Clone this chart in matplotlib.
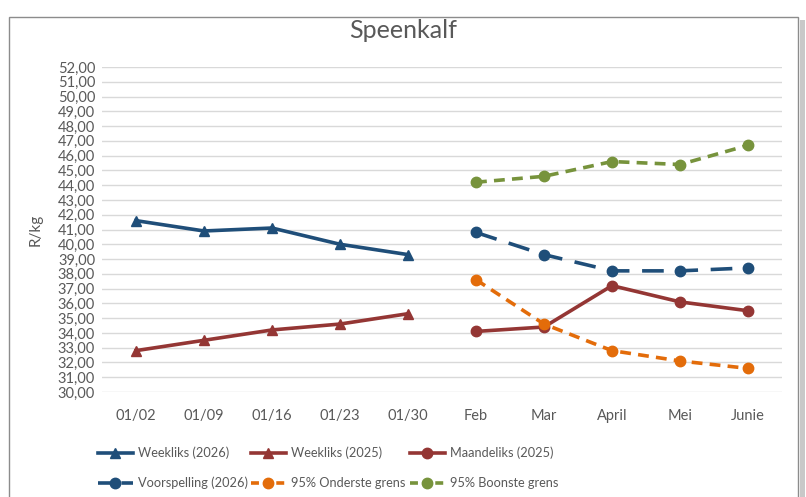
import numpy as np
import matplotlib
matplotlib.use("Agg")
from matplotlib import pyplot as plt
from matplotlib.lines import Line2D
from matplotlib.patches import Rectangle

# categories on the x axis
categories = ["01/02", "01/09", "01/16", "01/23", "01/30",
              "Feb", "Mar", "April", "Mei", "Junie"]

# weekly series (first five categories)
weekliks_2026 = [41.6, 40.9, 41.1, 40.0, 39.3]
weekliks_2025 = [32.8, 33.5, 34.2, 34.6, 35.3]

# monthly series (last five categories)
maandeliks_2025 = [34.1, 34.4, 37.2, 36.1, 35.5]
voorspelling_2026 = [40.8, 39.3, 38.2, 38.2, 38.4]
onderste_grens = [37.6, 34.6, 32.8, 32.1, 31.6]
boonste_grens = [44.2, 44.6, 45.6, 45.4, 46.7]

blue = "#1F4E79"
red = "#943634"
orange = "#E36C0A"
green = "#77933C"
grey = "#595959"

plt.rcParams["font.family"] = ["Lato", "DejaVu Sans"]

fig = plt.figure(figsize=(8.06, 4.97), dpi=100)
ax = fig.add_axes([102/806, 1-392/497, 680/806, 325/497])

x = np.arange(len(categories))
wx = x[:5]
mx = x[5:]

lw = 2.6
ms = 7.5
ax.plot(wx, weekliks_2026, color=blue, lw=lw, marker="^", ms=ms)
ax.plot(wx, weekliks_2025, color=red, lw=lw, marker="^", ms=ms)
ax.plot(mx, maandeliks_2025, color=red, lw=lw, marker="o", ms=ms)
ax.plot(mx, voorspelling_2026, color=blue, lw=lw, marker="o", ms=ms, dashes=(6, 3.5))
ax.plot(mx, onderste_grens, color=orange, lw=lw, marker="o", ms=ms, dashes=(3, 2))
ax.plot(mx, boonste_grens, color=green, lw=lw, marker="o", ms=ms, dashes=(3, 2))

ax.set_xlim(-0.5, 9.5)
ax.set_ylim(30, 52)
ax.set_yticks(np.arange(30, 53, 1))
ax.set_yticklabels([f"{v:.2f}".replace(".", ",") for v in np.arange(30, 53, 1)])
ax.set_xticks(x)
ax.set_xticklabels(categories)
ax.grid(axis="y", color="#D9D9D9", lw=1)
ax.set_axisbelow(True)
for s in ax.spines.values():
    s.set_visible(False)
ax.tick_params(length=0, labelsize=10.5, colors=grey)
ax.tick_params(axis="x", pad=12)
ax.tick_params(axis="y", pad=5)
ax.set_ylabel("R/kg", color=grey, fontsize=11, labelpad=11)

fig.text(0.5, 1-30/497, "Speenkalf", ha="center", va="center", fontsize=18, color=grey)

# legend proxies (dash patterns tuned so the marker sits between two dashes)
def proxy(color, marker, dashes=None):
    if dashes is None:
        return Line2D([], [], color=color, lw=lw, marker=marker, ms=ms)
    return Line2D([], [], color=color, lw=lw, marker=marker, ms=ms, dashes=dashes)

legend_cols = [
    ([proxy(blue, "^"), proxy(blue, "o", (4, 2.5))],
     ["Weekliks (2026)", "Voorspelling (2026)"], 95),
    ([proxy(red, "^"), proxy(orange, "o", (2.2, 1.3))],
     ["Weekliks (2025)", "95% Onderste grens"], 248),
    ([proxy(red, "o"), proxy(green, "o", (2.2, 1.3))],
     ["Maandeliks (2025)", "95% Boonste grens"], 407),
]
for handles, labels, px in legend_cols:
    fig.legend(handles, labels, loc="center left",
               bbox_to_anchor=(px/806, 1-468/497), frameon=False,
               fontsize=9.2, labelcolor=grey, handlelength=2.8, handletextpad=0.4,
               labelspacing=1.4, borderaxespad=0, borderpad=0.2)

# chart border with shadow
fig.patches.append(Rectangle((800/806, -0.02), 5/806, 1-10/497, transform=fig.transFigure,
                             facecolor="#C8C8C8", edgecolor="none", zorder=-2))
fig.patches.append(Rectangle((9/806, -0.02), 789/806, 1-7/497, transform=fig.transFigure,
                             facecolor="white", edgecolor="#8C8C8C", lw=1, zorder=-1))

fig.savefig("out.png", dpi=100)
